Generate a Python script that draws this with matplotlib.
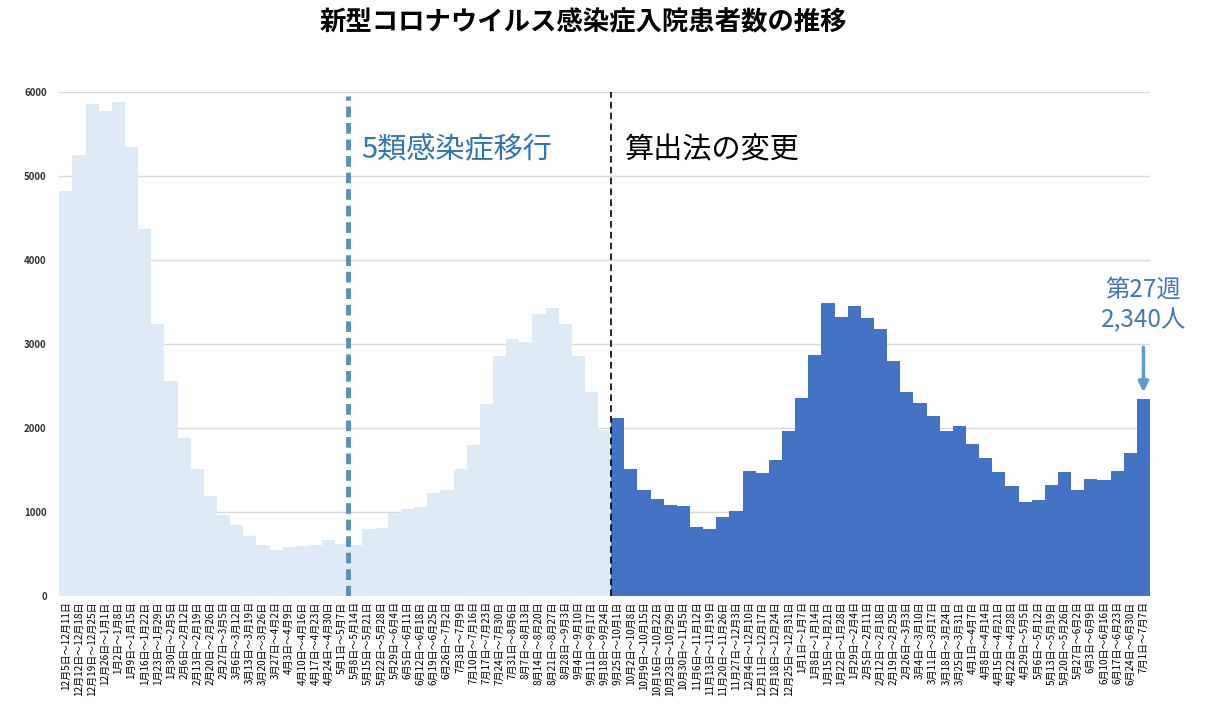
import datetime
import matplotlib
matplotlib.use('Agg')
import matplotlib.pyplot as plt

plt.rcParams['font.family'] = ['Noto Sans CJK JP', 'DejaVu Sans']

# 週ごとの入院患者数（2022年12月5日の週～2024年7月1日の週）
start_date = datetime.date(2022, 12, 5)
n_weeks = 83

week_labels = []
for i in range(n_weeks):
    d0 = start_date + datetime.timedelta(weeks=i)
    d1 = d0 + datetime.timedelta(days=6)
    week_labels.append(f"{d0.month}月{d0.day}日～{d1.month}月{d1.day}日")

# 旧算出法（9月18日～9月24日の週まで）
values_old = [4820, 5250, 5850, 5770, 5880, 5340, 4370, 3240, 2550, 1880,
              1510, 1190, 960, 845, 715, 600, 550, 575, 595, 600,
              660, 610, 600, 790, 800, 990, 1030, 1060, 1220, 1260,
              1510, 1790, 2280, 2850, 3050, 3020, 3350, 3430, 3240, 2850,
              2420, 1970]
# 新算出法（9月25日～10月1日の週から）
values_new = [2110, 1510, 1260, 1155, 1080, 1070, 815, 790, 940, 1010,
              1480, 1465, 1610, 1960, 2350, 2860, 3490, 3320, 3450, 3300,
              3175, 2790, 2420, 2290, 2140, 1960, 2020, 1800, 1635, 1475,
              1300, 1110, 1145, 1315, 1475, 1260, 1385, 1380, 1490, 1695,
              2340]

yticks = [0, 1000, 2000, 3000, 4000, 5000, 6000]

light = '#DEEAF6'
dark = '#4472C4'

fig = plt.figure(figsize=(12.15, 7.27), dpi=100)
ax = fig.add_axes([0.0488, 0.1806, 0.8977, 0.6933])

x_old = list(range(len(values_old)))
x_new = list(range(len(values_old), len(values_old) + len(values_new)))
ax.bar(x_old, values_old, width=1.0, color=light, edgecolor='none', zorder=2)
ax.bar(x_new, values_new, width=1.0, color=dark, edgecolor='none', zorder=2)

ax.set_xlim(-0.5, n_weeks - 0.5)
ax.set_ylim(0, 6000)
ax.set_yticks(yticks)
ax.set_yticklabels([str(v) for v in yticks], fontsize=7, color='#333333',
                   fontweight='bold')
ax.yaxis.grid(True, color='#D9D9D9', linewidth=1, zorder=0)
ax.set_axisbelow(True)
for s in ax.spines.values():
    s.set_visible(False)
ax.tick_params(axis='both', length=0)
ax.tick_params(axis='y', pad=9)

ax.set_xticks(range(n_weeks))
ax.set_xticklabels(week_labels, rotation=90, fontsize=7.2, color='black')
ax.tick_params(axis='x', pad=4)

# 5類感染症移行（5月8日～）
x_shift = week_labels.index('5月1日～5月7日') + 0.5
ax.vlines(x_shift, 0, 5950, colors='#5B8DC0', linestyles=(0, (2.2, 1.2)),
          linewidth=3.5, zorder=3)
ax.text(x_shift + 0.95, 5300, '5類感染症移行', fontsize=21, color='#2E75B6',
        va='center', ha='left')

# 算出法の変更
x_change = len(values_old) - 0.5
ax.axvline(x_change, color='black', linestyle=(0, (4, 2.5)), linewidth=1.2,
           zorder=3)
ax.text(x_change + 1.05, 5300, '算出法の変更', fontsize=21, color='black',
        va='center', ha='left')

# 最新週の注記
last_x = n_weeks - 1
ax.text(last_x, 3460, '第27週\n2,340人', fontsize=17.5, color='#4472C4',
        ha='center', va='center', linespacing=1.2)
ax.annotate('', xy=(last_x, values_new[-1] + 50), xytext=(last_x, 2990),
            arrowprops=dict(arrowstyle='-|>', color='#5B9BD5', lw=2.5,
                            mutation_scale=15))

fig.text(0.48, 0.968, '新型コロナウイルス感染症入院患者数の推移',
         fontsize=19, fontweight='bold', ha='center', va='center')

fig.savefig('out.png', dpi=100)
